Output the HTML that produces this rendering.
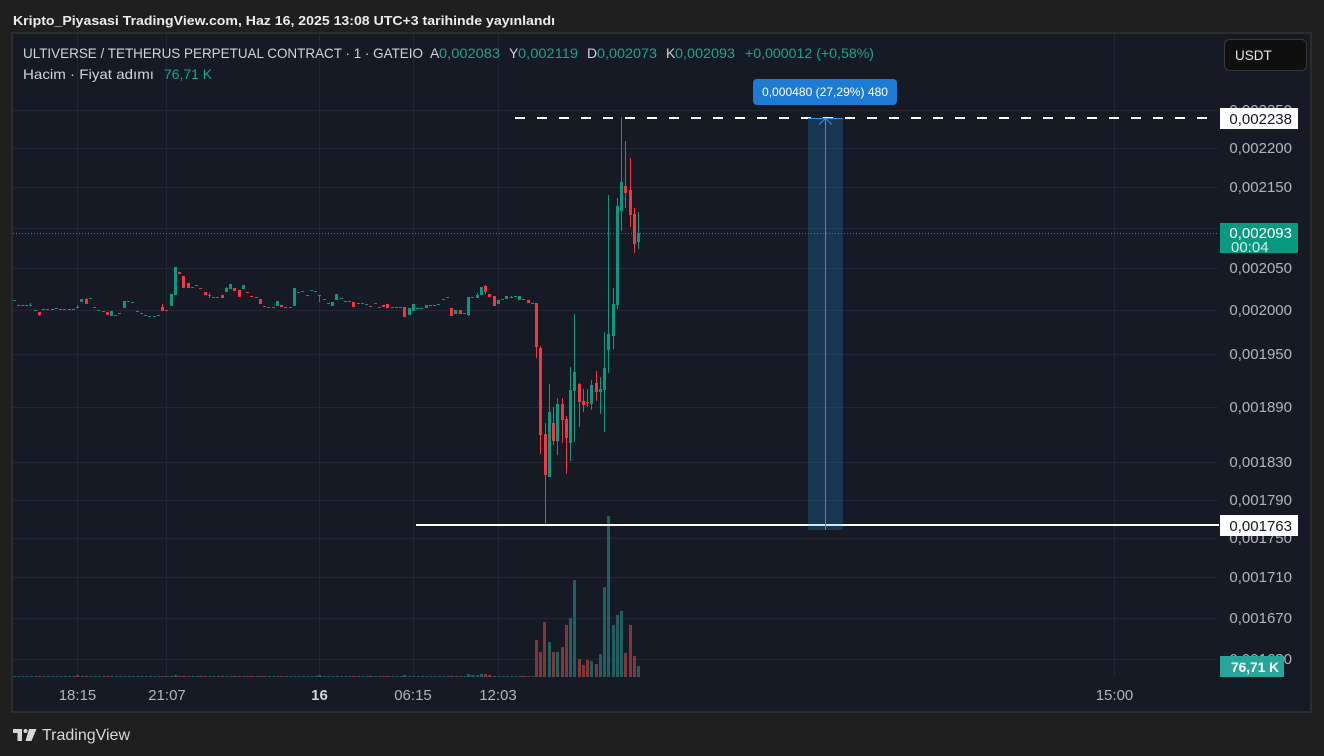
<!DOCTYPE html>
<html><head><meta charset="utf-8"><style>
html,body{margin:0;padding:0;background:#1f1f1f;width:1324px;height:756px;overflow:hidden}
svg{display:block}
text{font-family:"Liberation Sans",sans-serif}
</style></head><body>
<svg width="1324" height="756" viewBox="0 0 1324 756" xmlns="http://www.w3.org/2000/svg">
<rect width="1324" height="756" fill="#1f1f1f"/>
<text x="13" y="25" font-size="13" font-weight="bold" fill="#ececec" textLength="542" lengthAdjust="spacingAndGlyphs">Kripto_Piyasasi TradingView.com, Haz 16, 2025 13:08 UTC+3 tarihinde yayınlandı</text>
<rect x="11" y="32" width="1301" height="681" fill="#2d2d2d"/>
<rect x="13" y="34" width="1297" height="677" fill="#161a25"/>

<!-- grid -->
<g fill="#232733">
<rect x="13" y="110" width="1205" height="1"/>
<rect x="13" y="148" width="1205" height="1"/>
<rect x="13" y="187" width="1205" height="1"/>
<rect x="13" y="228" width="1205" height="1"/>
<rect x="13" y="268" width="1205" height="1"/>
<rect x="13" y="310" width="1205" height="1"/>
<rect x="13" y="354" width="1205" height="1"/>
<rect x="13" y="407" width="1205" height="1"/>
<rect x="13" y="462" width="1205" height="1"/>
<rect x="13" y="500" width="1205" height="1"/>
<rect x="13" y="538" width="1205" height="1"/>
<rect x="13" y="577" width="1205" height="1"/>
<rect x="13" y="618" width="1205" height="1"/>
<rect x="13" y="659" width="1205" height="1"/>
<rect x="77" y="34" width="1" height="642"/>
<rect x="166" y="34" width="1" height="642"/>
<rect x="319" y="34" width="1" height="642"/>
<rect x="413" y="34" width="1" height="642"/>
<rect x="498" y="34" width="1" height="642"/>
<rect x="1114" y="34" width="1" height="642"/>
</g>

<!-- header legend -->
<text x="23" y="58" font-size="14" fill="#d1d4dc" textLength="400" lengthAdjust="spacingAndGlyphs">ULTIVERSE / TETHERUS PERPETUAL CONTRACT · 1 · GATEIO</text>
<text x="430" y="58" font-size="14" fill="#d1d4dc">A</text>
<text x="439" y="58" font-size="14" fill="#1fa38c" textLength="61" lengthAdjust="spacingAndGlyphs">0,002083</text>
<text x="509" y="58" font-size="14" fill="#d1d4dc">Y</text>
<text x="518" y="58" font-size="14" fill="#1fa38c" textLength="60" lengthAdjust="spacingAndGlyphs">0,002119</text>
<text x="587" y="58" font-size="14" fill="#d1d4dc">D</text>
<text x="597" y="58" font-size="14" fill="#1fa38c" textLength="60" lengthAdjust="spacingAndGlyphs">0,002073</text>
<text x="666" y="58" font-size="14" fill="#d1d4dc">K</text>
<text x="675" y="58" font-size="14" fill="#1fa38c" textLength="60" lengthAdjust="spacingAndGlyphs">0,002093</text>
<text x="745" y="58" font-size="14" fill="#1fa38c" textLength="129" lengthAdjust="spacingAndGlyphs">+0,000012 (+0,58%)</text>
<text x="23" y="79" font-size="14" fill="#d1d4dc" textLength="131" lengthAdjust="spacingAndGlyphs">Hacim · Fiyat adımı</text>
<text x="164" y="79" font-size="14" fill="#1fa38c" textLength="48" lengthAdjust="spacingAndGlyphs">76,71 K</text>

<!-- flat volume -->
<line x1="13" y1="676.5" x2="534" y2="676.5" stroke="#1e605f" stroke-width="1" stroke-dasharray="3 1.25"/>
<g fill="#82363a">
<rect x="38" y="676" width="3" height="1"/><rect x="76" y="675" width="3" height="2"/><rect x="85" y="676" width="3" height="1"/><rect x="106" y="676" width="3" height="1"/><rect x="161" y="676" width="3" height="1"/><rect x="165" y="676" width="3" height="1"/><rect x="178" y="676" width="3" height="1"/><rect x="182" y="676" width="3" height="1"/><rect x="187" y="676" width="3" height="1"/><rect x="199" y="676" width="3" height="1"/><rect x="204" y="676" width="3" height="1"/><rect x="221" y="676" width="3" height="1"/><rect x="233" y="676" width="3" height="1"/><rect x="238" y="676" width="3" height="1"/><rect x="246" y="676" width="3" height="1"/><rect x="250" y="676" width="3" height="1"/><rect x="259" y="676" width="3" height="1"/><rect x="263" y="676" width="3" height="1"/><rect x="280" y="676" width="3" height="1"/><rect x="352" y="676" width="3" height="1"/><rect x="369" y="676" width="3" height="1"/><rect x="382" y="676" width="3" height="1"/><rect x="386" y="676" width="3" height="1"/><rect x="403" y="675" width="3" height="2"/><rect x="450" y="676" width="3" height="1"/><rect x="459" y="676" width="3" height="1"/><rect x="484" y="674" width="3" height="3"/><rect x="488" y="675" width="3" height="2"/><rect x="493" y="676" width="3" height="1"/><rect x="522" y="676" width="3" height="1"/><rect x="527" y="676" width="3" height="1"/>
</g>
<g fill="#1e605f">
<rect x="174" y="675" width="3" height="2"/><rect x="318" y="675" width="3" height="2"/><rect x="467" y="674" width="3" height="3"/><rect x="471" y="675" width="3" height="2"/><rect x="476" y="675" width="3" height="2"/><rect x="480" y="674" width="3" height="3"/>
</g>

<!-- spike volume -->
<g fill="#82363a">
<rect x="535" y="640" width="3" height="37"/><rect x="539" y="652" width="3" height="25"/><rect x="543" y="622" width="3" height="55"/><rect x="552" y="652" width="3" height="25"/><rect x="561" y="647" width="3" height="30"/><rect x="565" y="625" width="3" height="52"/><rect x="578" y="659" width="3" height="18"/><rect x="582" y="665" width="3" height="12"/><rect x="586" y="660" width="3" height="17"/><rect x="595" y="664" width="3" height="13"/><rect x="624" y="653" width="3" height="24"/><rect x="629" y="625" width="3" height="52"/><rect x="633" y="656" width="3" height="21"/>
</g>
<g fill="#1e605f">
<rect x="548" y="642" width="3" height="35"/><rect x="556" y="652" width="3" height="25"/><rect x="569" y="618" width="3" height="59"/><rect x="573" y="580" width="3" height="97"/><rect x="590" y="661" width="3" height="16"/><rect x="599" y="654" width="3" height="23"/><rect x="603" y="587" width="3" height="90"/><rect x="607" y="516" width="3" height="161"/><rect x="612" y="625" width="3" height="52"/><rect x="616" y="615" width="3" height="62"/><rect x="620" y="611" width="3" height="66"/><rect x="637" y="666" width="3" height="11"/>
</g>

<!-- green candles -->
<g fill="#089981">
<rect x="13" y="300" width="3" height="1"/><rect x="17" y="305" width="3" height="1"/><rect x="21" y="305" width="3" height="1"/><rect x="25" y="305" width="3" height="1"/><rect x="29" y="305" width="3" height="1"/><rect x="30" y="303" width="1" height="3"/><rect x="34" y="310" width="3" height="1"/><rect x="42" y="309" width="3" height="1"/><rect x="46" y="309" width="3" height="1"/><rect x="51" y="309" width="3" height="1"/><rect x="55" y="308" width="3" height="1"/><rect x="59" y="309" width="3" height="1"/><rect x="63" y="309" width="3" height="1"/><rect x="68" y="309" width="3" height="1"/><rect x="72" y="309" width="3" height="1"/>
<rect x="80" y="299" width="3" height="3"/><rect x="89" y="298" width="3" height="1"/><rect x="93" y="307" width="3" height="1"/><rect x="97" y="310" width="3" height="1"/><rect x="102" y="311" width="3" height="1"/><rect x="110" y="311" width="3" height="5"/><rect x="114" y="315" width="3" height="1"/><rect x="118" y="313" width="3" height="1"/><rect x="123" y="301" width="3" height="7"/><rect x="127" y="301" width="3" height="1"/><rect x="131" y="302" width="3" height="1"/><rect x="136" y="311" width="3" height="1"/><rect x="140" y="313" width="3" height="1"/><rect x="144" y="315" width="3" height="1"/><rect x="148" y="316" width="3" height="1"/><rect x="153" y="316" width="3" height="1"/><rect x="157" y="315" width="3" height="1"/>
<rect x="170" y="294" width="3" height="12"/><rect x="174" y="267" width="3" height="28"/><rect x="191" y="287" width="3" height="1"/><rect x="195" y="285" width="3" height="1"/><rect x="208" y="295" width="3" height="1"/><rect x="209" y="293" width="1" height="5"/><rect x="212" y="297" width="3" height="1"/><rect x="216" y="297" width="3" height="1"/><rect x="225" y="288" width="3" height="4"/><rect x="226" y="287" width="1" height="5"/><rect x="229" y="284" width="3" height="5"/><rect x="242" y="285" width="3" height="4"/><rect x="255" y="297" width="3" height="1"/><rect x="267" y="307" width="3" height="1"/><rect x="272" y="307" width="3" height="1"/><rect x="276" y="301" width="3" height="5"/>
<rect x="284" y="307" width="3" height="1"/><rect x="289" y="307" width="3" height="1"/><rect x="293" y="288" width="3" height="18"/><rect x="297" y="292" width="3" height="1"/><rect x="301" y="291" width="3" height="1"/><rect x="306" y="295" width="3" height="1"/><rect x="310" y="290" width="3" height="1"/><rect x="314" y="291" width="3" height="1"/><rect x="318" y="295" width="3" height="1"/><rect x="319" y="295" width="1" height="7"/><rect x="323" y="299" width="3" height="1"/><rect x="327" y="303" width="3" height="1"/><rect x="331" y="302" width="3" height="4"/><rect x="335" y="294" width="3" height="6"/><rect x="340" y="298" width="3" height="1"/><rect x="344" y="301" width="3" height="1"/><rect x="348" y="301" width="3" height="1"/>
<rect x="357" y="303" width="3" height="1"/><rect x="361" y="303" width="3" height="1"/><rect x="365" y="304" width="3" height="1"/><rect x="374" y="303" width="3" height="1"/><rect x="378" y="307" width="3" height="1"/><rect x="391" y="307" width="3" height="1"/><rect x="395" y="307" width="3" height="1"/><rect x="399" y="307" width="3" height="1"/><rect x="408" y="308" width="3" height="7"/><rect x="412" y="304" width="3" height="7"/><rect x="416" y="308" width="3" height="1"/><rect x="420" y="308" width="3" height="1"/><rect x="425" y="305" width="3" height="3"/><rect x="429" y="305" width="3" height="1"/><rect x="433" y="305" width="3" height="1"/><rect x="437" y="304" width="3" height="1"/><rect x="442" y="299" width="3" height="1"/><rect x="446" y="297" width="3" height="1"/>
<rect x="454" y="310" width="3" height="4"/><rect x="463" y="313" width="3" height="1"/><rect x="467" y="297" width="3" height="18"/><rect x="468" y="297" width="1" height="19"/><rect x="471" y="297" width="3" height="1"/><rect x="476" y="295" width="3" height="3"/><rect x="477" y="293" width="1" height="4"/><rect x="480" y="287" width="3" height="8"/><rect x="497" y="300" width="3" height="4"/><rect x="501" y="299" width="3" height="1"/><rect x="505" y="296" width="3" height="3"/><rect x="510" y="297" width="3" height="1"/><rect x="511" y="296" width="1" height="2"/><rect x="514" y="296" width="3" height="1"/><rect x="518" y="296" width="3" height="4"/><rect x="531" y="303" width="3" height="1"/>
<rect x="549" y="384" width="1" height="93"/><rect x="548" y="412" width="3" height="65"/>
<rect x="557" y="398" width="1" height="57"/><rect x="556" y="404" width="3" height="37"/>
<rect x="570" y="367" width="1" height="94"/><rect x="569" y="390" width="3" height="53"/>
<rect x="574" y="314" width="1" height="128"/><rect x="573" y="372" width="3" height="19"/>
<rect x="591" y="380" width="1" height="30"/><rect x="590" y="385" width="3" height="19"/>
<rect x="600" y="377" width="1" height="37"/><rect x="599" y="389" width="3" height="3"/>
<rect x="604" y="332" width="1" height="100"/><rect x="603" y="368" width="3" height="22"/>
<rect x="608" y="195" width="1" height="178"/><rect x="607" y="334" width="3" height="16"/>
<rect x="613" y="288" width="1" height="61"/><rect x="612" y="304" width="3" height="32"/>
<rect x="617" y="198" width="1" height="111"/><rect x="616" y="206" width="3" height="99"/>
<rect x="621" y="117" width="1" height="114"/><rect x="620" y="182" width="3" height="29"/>
<rect x="638" y="212" width="1" height="37"/><rect x="637" y="233" width="3" height="9"/>
</g>

<!-- red candles -->
<g fill="#f23645">
<rect x="38" y="312" width="3" height="3"/><rect x="39" y="312" width="1" height="4"/><rect x="76" y="307" width="3" height="1"/><rect x="77" y="305" width="1" height="3"/><rect x="85" y="299" width="3" height="5"/><rect x="86" y="298" width="1" height="2"/><rect x="106" y="312" width="3" height="3"/><rect x="161" y="307" width="3" height="4"/><rect x="162" y="304" width="1" height="4"/><rect x="165" y="310" width="3" height="1"/><rect x="178" y="272" width="3" height="2"/><rect x="182" y="276" width="3" height="12"/><rect x="187" y="283" width="3" height="5"/><rect x="199" y="288" width="3" height="1"/><rect x="204" y="292" width="3" height="3"/><rect x="221" y="295" width="3" height="3"/><rect x="233" y="288" width="3" height="3"/><rect x="238" y="290" width="3" height="7"/><rect x="246" y="292" width="3" height="1"/><rect x="250" y="296" width="3" height="1"/><rect x="259" y="299" width="3" height="5"/><rect x="263" y="306" width="3" height="1"/><rect x="280" y="305" width="3" height="2"/>
<rect x="352" y="302" width="3" height="5"/><rect x="369" y="306" width="3" height="1"/><rect x="382" y="305" width="3" height="2"/><rect x="386" y="304" width="3" height="4"/><rect x="403" y="307" width="3" height="10"/><rect x="450" y="308" width="3" height="8"/><rect x="459" y="310" width="3" height="4"/><rect x="484" y="286" width="3" height="6"/><rect x="485" y="285" width="1" height="9"/><rect x="488" y="294" width="3" height="3"/><rect x="493" y="296" width="3" height="10"/><rect x="522" y="299" width="3" height="1"/><rect x="527" y="300" width="3" height="3"/>
<rect x="536" y="303" width="1" height="55"/><rect x="535" y="303" width="3" height="44"/>
<rect x="540" y="346" width="1" height="108"/><rect x="539" y="348" width="3" height="87"/>
<rect x="545" y="423" width="1" height="102"/><rect x="544" y="434" width="3" height="41"/>
<rect x="553" y="407" width="1" height="38"/><rect x="552" y="423" width="3" height="18"/>
<rect x="562" y="398" width="1" height="45"/><rect x="561" y="404" width="3" height="16"/>
<rect x="566" y="416" width="1" height="58"/><rect x="565" y="419" width="3" height="19"/>
<rect x="579" y="383" width="1" height="44"/><rect x="578" y="384" width="3" height="18"/>
<rect x="583" y="389" width="1" height="23"/><rect x="582" y="401" width="3" height="4"/>
<rect x="587" y="389" width="1" height="18"/><rect x="586" y="402" width="3" height="1"/>
<rect x="596" y="371" width="1" height="30"/><rect x="595" y="383" width="3" height="9"/>
<rect x="625" y="141" width="1" height="67"/><rect x="624" y="186" width="3" height="7"/>
<rect x="630" y="158" width="1" height="69"/><rect x="629" y="190" width="3" height="25"/>
<rect x="634" y="208" width="1" height="45"/><rect x="633" y="214" width="3" height="30"/>
</g>

<!-- drawings -->
<line x1="515" y1="118" x2="1219" y2="118" stroke="#ffffff" stroke-width="2" stroke-dasharray="10 12"/>
<line x1="416" y1="525" x2="1219" y2="525" stroke="#ffffff" stroke-width="2"/>
<rect x="808" y="118" width="35" height="412" fill="rgba(33,150,243,0.22)"/>
<line x1="808" y1="118.5" x2="843" y2="118.5" stroke="#2196f3" stroke-width="1"/>
<line x1="825.5" y1="118" x2="825.5" y2="530" stroke="#2196f3" stroke-width="1"/>
<polyline points="819,124.5 825.5,118.5 832,124.5" fill="none" stroke="#2196f3" stroke-width="1"/>
<rect x="753" y="79" width="144" height="26" rx="4" fill="#1e7bd4"/>
<text x="762" y="96" font-size="12" fill="#ffffff" textLength="126" lengthAdjust="spacingAndGlyphs">0,000480 (27,29%) 480</text>

<!-- current price line -->
<line x1="13" y1="233.5" x2="1219" y2="233.5" stroke="#089981" stroke-width="1" stroke-dasharray="1 2"/>

<!-- price axis labels -->
<g font-size="15" fill="#b2b5be" text-anchor="end">
<text x="1292" y="115">0,002250</text>
<text x="1292" y="153">0,002200</text>
<text x="1292" y="192">0,002150</text>
<text x="1292" y="233">0,002100</text>
<text x="1292" y="273">0,002050</text>
<text x="1292" y="315">0,002000</text>
<text x="1292" y="359">0,001950</text>
<text x="1292" y="412">0,001890</text>
<text x="1292" y="467">0,001830</text>
<text x="1292" y="505">0,001790</text>
<text x="1292" y="543">0,001750</text>
<text x="1292" y="582">0,001710</text>
<text x="1292" y="623">0,001670</text>
<text x="1292" y="664">0,001630</text>
</g>

<!-- label boxes -->
<rect x="1220" y="108" width="78" height="21" fill="#ffffff"/>
<text x="1292" y="124" font-size="15" fill="#131722" text-anchor="end">0,002238</text>
<rect x="1220" y="223" width="78" height="30" fill="#089981"/>
<text x="1292" y="238" font-size="15" fill="#ffffff" text-anchor="end">0,002093</text>
<text x="1231" y="252" font-size="15" fill="#d4efea">00:04</text>
<rect x="1220" y="515" width="78" height="21" fill="#ffffff"/>
<text x="1292" y="531" font-size="15" fill="#131722" text-anchor="end">0,001763</text>
<rect x="1220" y="656" width="64" height="21" fill="#26a69a"/>
<text x="1231" y="672" font-size="14" font-weight="bold" fill="#ffffff" textLength="48" lengthAdjust="spacingAndGlyphs">76,71 K</text>

<!-- USDT button -->
<rect x="1224.5" y="39.5" width="82" height="31" rx="5" fill="#0f0f0f" stroke="#383838"/>
<text x="1235" y="60" font-size="13.5" fill="#e6e6e6">USDT</text>

<!-- time axis -->
<g font-size="15" fill="#b2b5be" text-anchor="middle">
<text x="77.5" y="700">18:15</text>
<text x="167" y="700">21:07</text>
<text x="319.5" y="700" font-weight="bold" fill="#d1d4dc">16</text>
<text x="413" y="700">06:15</text>
<text x="498" y="700">12:03</text>
<text x="1114.5" y="700">15:00</text>
</g>

<!-- TradingView logo -->
<g fill="#d8d8d8">
<path d="M13,729 H22 V741 H17.5 V733 H13 Z"/>
<circle cx="25.5" cy="731" r="2"/>
<path d="M29,729 H36.5 L31.5,741 H25.5 Z"/>
</g>
<text x="42" y="740" font-size="16" fill="#d8d8d8" textLength="88" lengthAdjust="spacingAndGlyphs">TradingView</text>
</svg>
</body></html>
